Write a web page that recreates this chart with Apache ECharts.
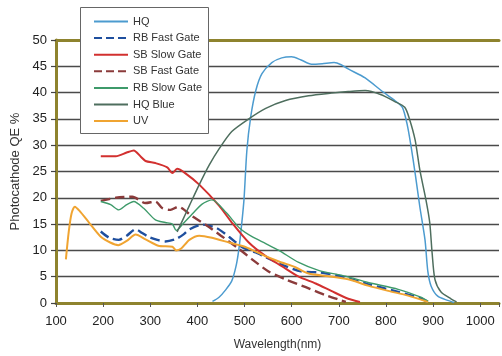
<!DOCTYPE html>
<html><head><meta charset="utf-8">
<script src="https://cdn.jsdelivr.net/npm/echarts@6/dist/echarts.min.js"></script>
<style>html,body{margin:0;padding:0;background:#fff}#c{width:502px;height:356px}</style>
</head><body><div id="c"></div>
<script>
const seriesNames = ['HQ','RB Fast Gate','SB Slow Gate','SB Fast Gate','RB Slow Gate','HQ Blue','UV'];
const xTicks = [100,200,300,400,500,600,700,800,900,1000];
const yTicks = [0,5,10,15,20,25,30,35,40,45,50];

const hq = [[432,0.3],[446,1.1],[460,2.5],[473,4.2],[482,7],[488,10.2],[494,15],[499,19.8],[505,29],[513,35.3],[524,40.4],[537,43.6],[558,45.7],[579,46.6],[600,46.8],[620,46.2],[642,45.4],[665,45.5],[690,45.7],[705,45.3],[720,44.5],[756,42.8],[790,40.4],[819,38.5],[835,37.2],[845,34],[853,30],[862,24.7],[872,18.3],[883,12],[889,6],[896,3.2],[910,1.3],[931,0.5],[945,0.1]];
const rbFast = [[195,13.6],[213,12.4],[233,12.0],[250,12.8],[269,14],[283,13.3],[296,12.6],[315,12.0],[332,11.7],[353,12.1],[370,13],[383,14],[410,14.9],[440,14.3],[467,12.6],[495,10.6],[524,9.6],[545,8.7],[587,7],[620,6.0],[660,5.8],[699,5.2],[762,3.6],[826,2.1],[870,1.0],[890,0.2]];
const sbSlow = [[195,27.9],[227,27.9],[250,28.6],[265,29],[280,27.8],[290,27],[311,26.6],[336,25.8],[347,24.7],[357,25.5],[374,24.7],[404,22.5],[446,18.5],[473,15.3],[509,11.5],[545,8.9],[579,7],[615,5],[651,3.7],[684,2.3],[720,0.8],[745,0.2]];
const sbFast = [[195,19.4],[227,20],[262,20.2],[290,19],[311,19.3],[326,18],[343,17.7],[359,18.3],[389,16.5],[419,14.8],[450,12.8],[485,10.5],[516,8.3],[551,6],[587,4.5],[630,3],[672,1.5],[705,0.5],[715,0.2]];
const rbSlow = [[195,19.3],[216,18.7],[233,17.7],[250,18.7],[265,19.3],[286,18],[311,15.8],[332,15.3],[347,15],[355,13.8],[368,14.9],[390,17],[410,18.8],[431,19.6],[461,17.2],[490,14.2],[516,12.6],[545,11.3],[573,10],[615,7.7],[657,6.2],[714,5.1],[762,3.9],[826,2.6],[874,1.1],[890,0.3]];
const hqBlue = [[357,13.5],[370,16],[383,18.5],[404,22.5],[425,26.2],[446,29.3],[473,32.6],[509,35],[545,37],[587,38.5],[636,39.4],[684,39.9],[720,40.2],[756,40.4],[790,39.6],[819,38.3],[840,37.2],[850,35],[862,31],[872,25.3],[885,19.6],[893,15.3],[898,9.6],[904,4.5],[917,2.1],[938,0.8],[950,0.2]];
const uv = [[121,8.3],[127,13.5],[133,17],[140,18.3],[150,17.5],[170,15.3],[195,12.6],[215,11.5],[232,11.0],[250,11.8],[269,13],[290,12.1],[317,10.9],[347,10.7],[355,10.0],[365,10.3],[383,12],[404,12.8],[431,12.4],[467,11.5],[503,10.6],[537,9.2],[573,7.9],[608,6.8],[636,5.6],[678,5.1],[720,4.5],[762,3.3],[805,2.3],[847,1.4],[889,0.2]];

const dataSets = [hq, rbFast, sbSlow, sbFast, rbSlow, hqBlue, uv];
const colors = ['#4c9bcf','#1f4f9e','#d2302f','#8b3b3b','#3e9a6a','#4e6e5e','#f0a431'];
const widths = [1.5, 2.4, 2, 2.4, 1.4, 1.5, 2];
const types = ['solid','dashed','solid','dashed','solid','solid','solid'];

const FONT = 'Liberation Sans';
const olive = '#8e832e';
const chart = echarts.init(document.getElementById('c'), null, {renderer:'canvas'});
chart.setOption({
  animation: false,
  backgroundColor: '#fff',
  textStyle: {fontFamily: FONT},
  grid: {left: 56, right: 0, top: 40, bottom: 52, containLabel: false},
  xAxis: [{
    type: 'value', min: 100, max: 1040, interval: 100,
    name: 'Wavelength(nm)', nameLocation: 'middle', nameGap: 36,
    nameTextStyle: {fontSize: 12, color: '#333', fontFamily: FONT},
    axisLine: {show: true, lineStyle: {color: olive, width: 3}},
    axisTick: {show: true, length: 4, lineStyle: {color: '#555', width: 1}},
    axisLabel: {fontSize: 13, color: '#222', margin: 12, fontFamily: FONT,
      formatter: v => (xTicks.indexOf(v) >= 0 ? String(v) : '')},
    splitLine: {show: false}
  },{
    type: 'value', position: 'top', min: 100, max: 1040,
    axisLine: {show: true, lineStyle: {color: olive, width: 3}},
    axisTick: {show: false}, axisLabel: {show: false}, splitLine: {show: false}
  }],
  yAxis: {
    type: 'value', min: 0, max: 50, interval: 5,
    name: 'Photocathode QE %', nameLocation: 'middle', nameGap: 31,
    nameTextStyle: {fontSize: 13, color: '#333', fontFamily: FONT},
    axisLine: {show: true, lineStyle: {color: olive, width: 3}},
    axisTick: {show: true, length: 5, lineStyle: {color: '#444', width: 1.2}},
    axisLabel: {fontSize: 13, color: '#222', margin: 9, fontFamily: FONT,
      formatter: v => (yTicks.indexOf(v) >= 0 ? String(v) : '')},
    splitLine: {show: true, lineStyle: {color: '#4a4a4a', width: 1.3}}
  },
  graphic: [{type: 'rect', z: 100, shape: {x: 80.5, y: 7.5, width: 128, height: 126},
    style: {fill: '#fff', stroke: '#666', lineWidth: 1}}],
  legend: {
    z: 200, orient: 'vertical', left: 93, top: 16, padding: 0,
    itemWidth: 34, itemHeight: 10, itemGap: 5.6,
    itemStyle: {opacity: 0},
    textStyle: {fontSize: 11, color: '#333', fontFamily: FONT},
    data: seriesNames
  },
  series: seriesNames.map((n, i) => ({
    name: n, type: 'line', data: dataSets[i], smooth: 0.25,
    symbol: 'none', showSymbol: false, color: colors[i],
    lineStyle: {color: colors[i], width: widths[i], type: types[i]},
    z: 2 + i
  }))
});
</script></body></html>
